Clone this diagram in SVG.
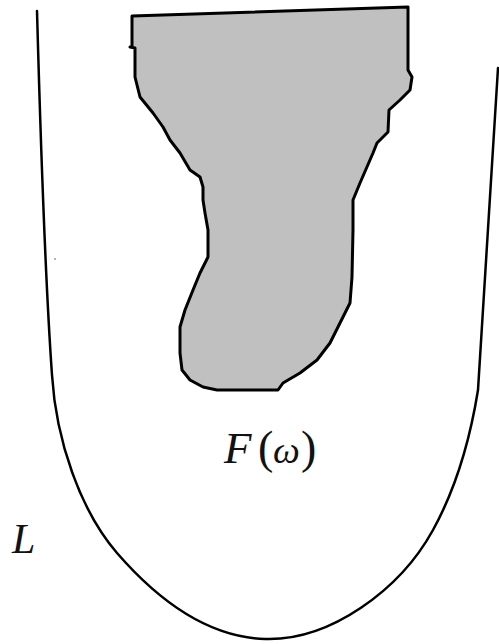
<svg xmlns="http://www.w3.org/2000/svg" width="499" height="644" viewBox="0 0 499 644">
<style>
.curve{fill:none;stroke:#000;stroke-width:2.5;stroke-linejoin:round;stroke-linecap:round}
.blob{fill:#c0c0c0;stroke:#000;stroke-width:3;stroke-linejoin:round}
.lbl{font-family:"Liberation Serif","DejaVu Serif",serif;font-size:42px;fill:#111}
.it{font-style:italic}
.par{font-size:46px}
</style>
<rect width="499" height="644" fill="#fff"/>
<g id="curve-L">
<path class="curve" d="M37,11 C40,120 46,290 52,375 C56,440 80,510 117,553 C150,591 200,637 265,639 C330,641 400,590 433,530 C455,490 470,440 478,390 C483,320 490,200 498,68"/>
<circle cx="55" cy="259" r="0.8" fill="#555"/>
</g>
<g id="region">
<path class="blob" d="M132,16 L408,7 L408,70 L412,77 L410,90 L400,100 L389,110 L388,132 L377,143 L373,153 L360,183 L353,200 L353,230 L352,277 L350,303 L340,323 L330,343 L317,360 L300,373 L283,383 L278,390 L217,390 L203,387 L190,380 L182,370 L180,353 L180,327 L185,310 L193,290 L200,273 L208,257 L208,230 L205,213 L203,200 L203,187 L200,177 L190,170 L180,153 L170,140 L163,127 L153,113 L140,97 L135,77 L135,48 L130,47 L132,47 Z"/>
</g>
<g id="labels">
<text class="lbl" y="463"><tspan class="it" x="224" font-size="45">F</tspan><tspan class="par" x="258">(</tspan><tspan class="it" x="273" font-size="38">ω</tspan><tspan class="par" x="301">)</tspan></text>
<text class="lbl it" x="12" y="553">L</text>
</g>
</svg>
